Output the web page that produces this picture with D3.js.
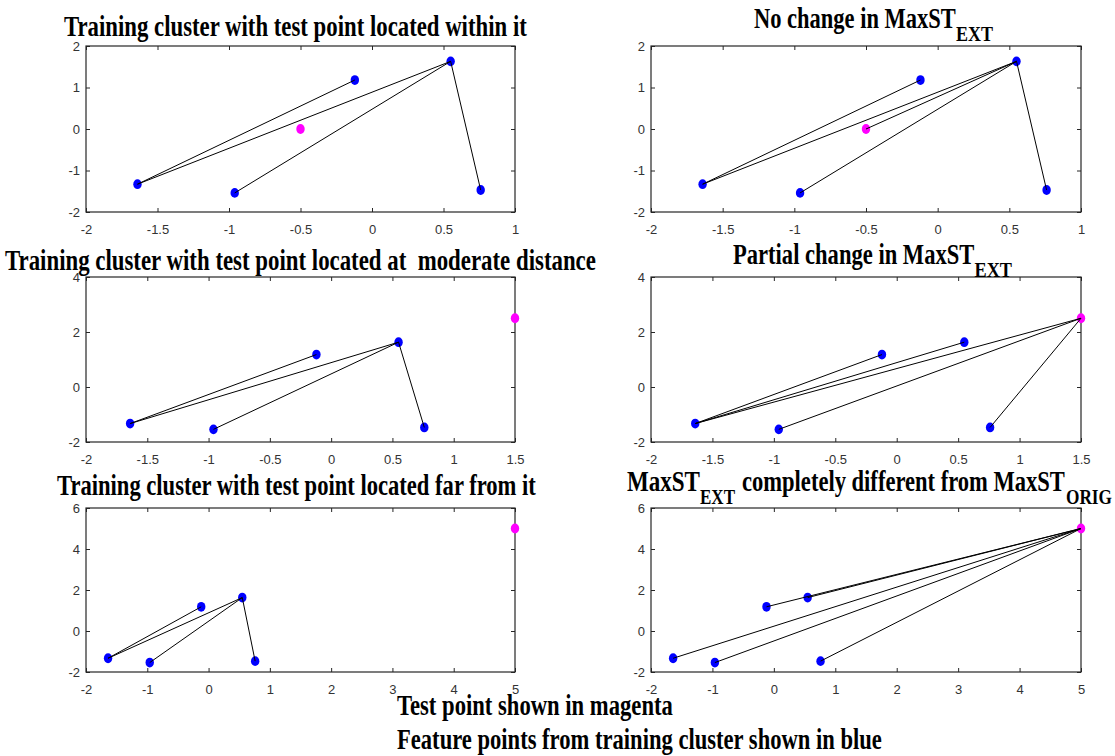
<!DOCTYPE html>
<html>
<head>
<meta charset="utf-8">
<script src="https://cdn.jsdelivr.net/npm/d3@7"></script>
<style>
  body { margin: 0; background: #fff; }
  svg text { white-space: pre; }
</style>
</head>
<body>
<svg id="fig" width="1115" height="756"></svg>
<script>
// Feature points of the training cluster (blue)
const clusterX = [-1.64, -0.96, -0.12, 0.55, 0.76];
const clusterY = [-1.33, -1.54, 1.18, 1.63, -1.47];

// Test point for each row (magenta): within, moderate distance, far away
const testX = [-0.5, 1.5, 5];
const testY = [0, 2.5, 5];

// Spanning-tree edges as index pairs; index 5 is the test point
const edgesOrig     = [[0, 2], [0, 3], [1, 3], [3, 4]];
const edgesNoChange = [[0, 2], [0, 3], [5, 3], [1, 3], [3, 4]];
const edgesPartial  = [[0, 2], [0, 3], [0, 5], [1, 5], [4, 5]];
const edgesComplete = [[5, 0], [5, 1], [5, 2], [5, 3], [5, 4]];

// Axis limits and tick values per row
const xDomains = [[-2, 1], [-2, 1.5], [-2, 5]];
const yDomains = [[-2, 2], [-2, 4], [-2, 6]];
const xTicks = [
  [-2, -1.5, -1, -0.5, 0, 0.5, 1],
  [-2, -1.5, -1, -0.5, 0, 0.5, 1, 1.5],
  [-2, -1, 0, 1, 2, 3, 4, 5]
];
const yTicks = [
  [-2, -1, 0, 1, 2],
  [-2, 0, 2, 4],
  [-2, 0, 2, 4, 6]
];

// Panel titles: pieces with optional subscript
const titles = [
  [["Training cluster with test point located within it", false]],
  [["No change in MaxST", false], ["EXT", true]],
  [["Training cluster with test point located at  moderate distance", false]],
  [["Partial change in MaxST", false], ["EXT", true]],
  [["Training cluster with test point located far from it", false]],
  [["MaxST", false], ["EXT", true], ["completely different from MaxST", false], ["ORIG", true]]
];
const footnotes = [
  "Test point shown in magenta",
  "Feature points from training cluster shown in blue"
];

// ---------- layout ----------
const svg = d3.select("#fig");
const serif = "'Liberation Serif', 'Times New Roman', serif";
const sans = "'Liberation Sans', Arial, Helvetica, sans-serif";
const axisColor = "#262626";

const colX = [[86, 515], [651, 1081]];
const rowY = [[46, 212], [277, 442], [508, 672]];

const panels = [
  { row: 0, col: 0, edges: edgesOrig },
  { row: 0, col: 1, edges: edgesNoChange },
  { row: 1, col: 0, edges: edgesOrig },
  { row: 1, col: 1, edges: edgesPartial },
  { row: 2, col: 0, edges: edgesOrig },
  { row: 2, col: 1, edges: edgesComplete }
];

// horizontal extents and baselines of each title piece
const titleLayout = [
  [[64, 527, 36]],
  [[754, 956, 27.7], [956, 993, 41]],
  [[5, 596, 270.5]],
  [[733, 974.5, 263.7], [974.5, 1012, 277]],
  [[57, 536, 495]],
  [[627, 700, 490.7], [700, 735, 504], [742, 1065, 490.7], [1066, 1112, 504]]
];
const footLayout = [[397, 673, 715], [397, 882, 749]];

// bold serif text squeezed horizontally to span [x0, x1]
function fitText(str, x0, x1, y, size) {
  const t = svg.append("text")
    .attr("x", 0).attr("y", y)
    .attr("font-family", serif)
    .attr("font-weight", "bold")
    .attr("font-size", size)
    .attr("fill", "#000")
    .text(str);
  const w = t.node().getComputedTextLength();
  t.attr("transform", `translate(${x0},0) scale(${(x1 - x0) / w},1)`);
}

const fmt = d => String(d);

panels.forEach((p, i) => {
  const [x0, x1] = colX[p.col];
  const [y0, y1] = rowY[p.row];
  const x = d3.scaleLinear().domain(xDomains[p.row]).range([x0, x1]);
  const y = d3.scaleLinear().domain(yDomains[p.row]).range([y1, y0]);

  const g = svg.append("g");

  // axes with inward ticks on all four sides
  const axes = [
    [d3.axisBottom(x).tickValues(xTicks[p.row]).tickFormat(fmt).tickPadding(13), `translate(0,${y1})`],
    [d3.axisTop(x).tickValues(xTicks[p.row]).tickFormat(""), `translate(0,${y0})`],
    [d3.axisLeft(y).tickValues(yTicks[p.row]).tickFormat(fmt).tickPadding(6), `translate(${x0},0)`],
    [d3.axisRight(y).tickValues(yTicks[p.row]).tickFormat(""), `translate(${x1},0)`]
  ];
  axes.forEach(([ax, tr]) => {
    const a = g.append("g").attr("transform", tr)
      .call(ax.tickSizeInner(-4).tickSizeOuter(0));
    a.select(".domain").remove();
    a.selectAll(".tick line").attr("stroke", axisColor);
    a.selectAll(".tick text")
      .attr("fill", "#333")
      .attr("font-family", sans)
      .attr("font-size", 13);
  });

  g.append("rect")
    .attr("x", x0).attr("y", y0)
    .attr("width", x1 - x0).attr("height", y1 - y0)
    .attr("fill", "none")
    .attr("stroke", axisColor)
    .attr("stroke-width", 1.2);

  // points: cluster then test point
  const px = clusterX.concat([testX[p.row]]);
  const py = clusterY.concat([testY[p.row]]);
  const pts = px.map((v, k) => ({ x: v, y: py[k], test: k === 5 }));

  g.selectAll("ellipse.pt")
    .data(pts)
    .join("ellipse")
    .attr("class", "pt")
    .attr("cx", d => x(d.x))
    .attr("cy", d => y(d.y))
    .attr("rx", 4.2)
    .attr("ry", 4.9)
    .attr("fill", d => d.test ? "#ff00ff" : "#0000ff");

  // spanning tree edges
  g.selectAll("line.edge")
    .data(p.edges)
    .join("line")
    .attr("class", "edge")
    .attr("x1", d => x(px[d[0]]))
    .attr("y1", d => y(py[d[0]]))
    .attr("x2", d => x(px[d[1]]))
    .attr("y2", d => y(py[d[1]]))
    .attr("stroke", "#000")
    .attr("stroke-width", 1);

  // title
  titles[i].forEach(([str, sub], k) => {
    const [tx0, tx1, ty] = titleLayout[i][k];
    fitText(str, tx0, tx1, ty, sub ? 20 : 29.5);
  });
});

footnotes.forEach((str, k) => {
  const [fx0, fx1, fy] = footLayout[k];
  fitText(str, fx0, fx1, fy, 29.5);
});
</script>
</body>
</html>
